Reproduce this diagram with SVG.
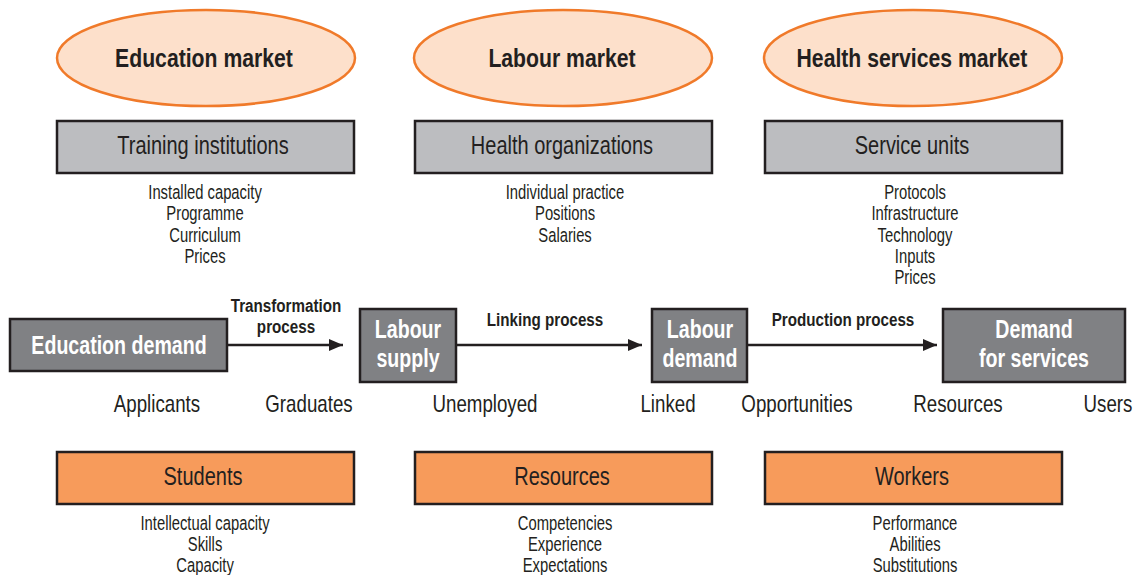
<svg xmlns="http://www.w3.org/2000/svg" width="1136" height="575" viewBox="0 0 1136 575">
<defs>
<marker id="arr" markerWidth="14" markerHeight="12" refX="14" refY="6" orient="auto" markerUnits="userSpaceOnUse">
<path d="M0,0 L14,6 L0,12 Z" fill="#231f20"/>
</marker>
<style>
text{font-family:"Liberation Sans",Arial,sans-serif;text-anchor:middle;fill:#231f20;transform-box:fill-box;transform-origin:center;transform:scaleX(0.8)}
.ell{fill:#fde0cb;stroke:#f07a2a;stroke-width:2.5}
.gray{fill:#bcbdc0;stroke:#231f20;stroke-width:2.5}
.dark{fill:#808184;stroke:#231f20;stroke-width:2.5}
.orange{fill:#f79b5b;stroke:#231f20;stroke-width:2.5}
.title{font-size:26.5px;font-weight:bold}
.box{font-size:25px}
.wb{font-size:26.5px;font-weight:bold;fill:#ffffff;transform:scaleX(0.74)}
.list{font-size:19.5px;transform:scaleX(0.76)}
.proc{font-size:19px;font-weight:bold}
.lbl{font-size:24px;transform:scaleX(0.78)}
.conn{stroke:#231f20;stroke-width:2.5;fill:none}
</style>
</defs>
<g id="education-market"><ellipse class="ell" cx="206" cy="58" rx="149" ry="48"/><text class="title" x="204" y="67">Education market</text></g>
<g id="labour-market"><ellipse class="ell" cx="563" cy="58" rx="149" ry="48"/><text class="title" x="562" y="67">Labour market</text></g>
<g id="health-market"><ellipse class="ell" cx="913" cy="58" rx="149" ry="48"/><text class="title" x="912" y="67">Health services market</text></g>

<g id="training-institutions"><rect class="gray" x="57" y="121" width="297" height="52"/><text class="box" x="203" y="154">Training institutions</text>
<text class="list" x="205" y="199">Installed capacity</text><text class="list" x="205" y="220">Programme</text><text class="list" x="205" y="242">Curriculum</text><text class="list" x="205" y="263">Prices</text></g>
<g id="health-organizations"><rect class="gray" x="415" y="121" width="297" height="52"/><text class="box" x="562" y="154">Health organizations</text>
<text class="list" x="565" y="199">Individual practice</text><text class="list" x="565" y="220">Positions</text><text class="list" x="565" y="242">Salaries</text></g>
<g id="service-units"><rect class="gray" x="765" y="121" width="297" height="52"/><text class="box" x="912" y="154">Service units</text>
<text class="list" x="915" y="199">Protocols</text><text class="list" x="915" y="220">Infrastructure</text><text class="list" x="915" y="242">Technology</text><text class="list" x="915" y="263">Inputs</text><text class="list" x="915" y="284">Prices</text></g>

<g id="education-demand"><rect class="dark" x="10" y="319" width="217" height="52"/><text class="wb" x="119" y="354">Education demand</text></g>
<g id="labour-supply"><rect class="dark" x="360" y="309" width="96" height="73"/><text class="wb" x="408" y="338">Labour</text><text class="wb" x="408" y="367">supply</text></g>
<g id="labour-demand"><rect class="dark" x="652" y="309" width="95" height="73"/><text class="wb" x="700" y="338">Labour</text><text class="wb" x="700" y="367">demand</text></g>
<g id="demand-for-services"><rect class="dark" x="943" y="309" width="182" height="73"/><text class="wb" x="1034" y="338">Demand</text><text class="wb" x="1034" y="367">for services</text></g>

<g id="connectors">
<line class="conn" x1="228" y1="345" x2="343" y2="345" marker-end="url(#arr)"/>
<line class="conn" x1="457" y1="345" x2="642" y2="345" marker-end="url(#arr)"/>
<line class="conn" x1="748" y1="345" x2="937" y2="345" marker-end="url(#arr)"/>
<text class="proc" x="286" y="312">Transformation</text><text class="proc" x="286" y="333">process</text>
<text class="proc" x="545" y="326">Linking process</text>
<text class="proc" x="843" y="326">Production process</text>
</g>

<g id="stage-labels">
<text class="lbl" x="157" y="412">Applicants</text>
<text class="lbl" x="309" y="412">Graduates</text>
<text class="lbl" x="485" y="412">Unemployed</text>
<text class="lbl" x="668" y="412">Linked</text>
<text class="lbl" x="797" y="412">Opportunities</text>
<text class="lbl" x="958" y="412">Resources</text>
<text class="lbl" x="1108" y="412">Users</text>
</g>

<g id="students"><rect class="orange" x="57" y="452" width="297" height="52"/><text class="box" x="203" y="485">Students</text>
<text class="list" x="205" y="530">Intellectual capacity</text><text class="list" x="205" y="551">Skills</text><text class="list" x="205" y="572">Capacity</text></g>
<g id="resources"><rect class="orange" x="415" y="452" width="297" height="52"/><text class="box" x="562" y="485">Resources</text>
<text class="list" x="565" y="530">Competencies</text><text class="list" x="565" y="551">Experience</text><text class="list" x="565" y="572">Expectations</text></g>
<g id="workers"><rect class="orange" x="765" y="452" width="297" height="52"/><text class="box" x="912" y="485">Workers</text>
<text class="list" x="915" y="530">Performance</text><text class="list" x="915" y="551">Abilities</text><text class="list" x="915" y="572">Substitutions</text></g>
</svg>
